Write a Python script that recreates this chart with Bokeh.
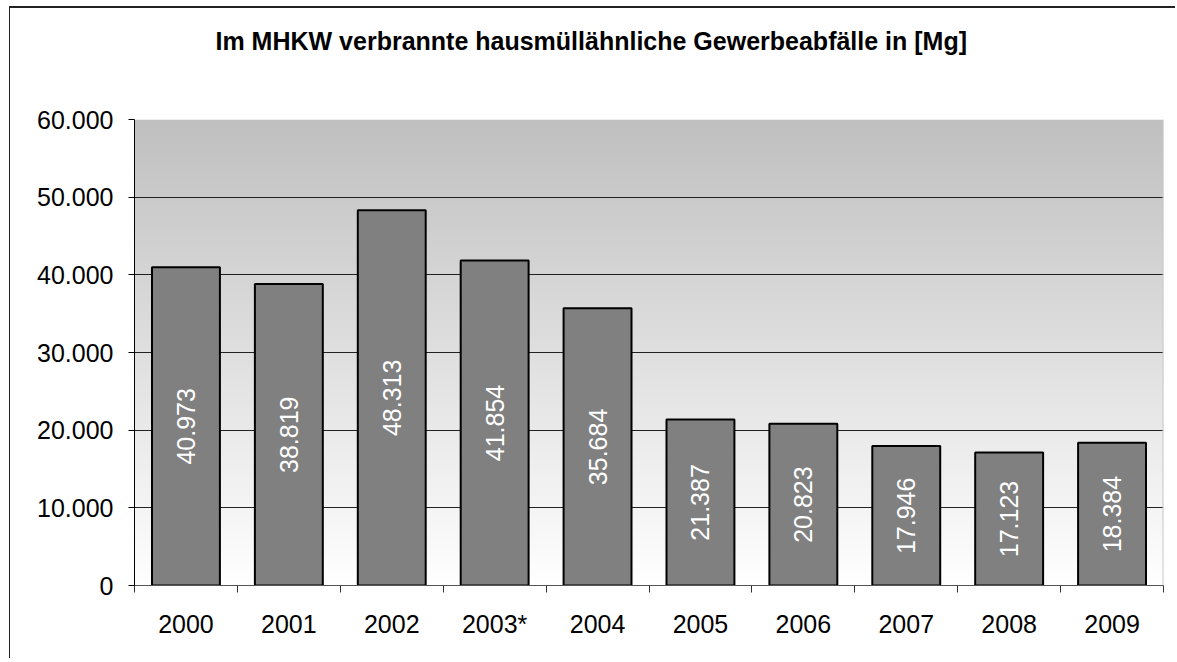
import numpy as np
from bokeh.plotting import figure
from bokeh.models import FixedTicker, Range1d, Span, ColumnDataSource, Title
from bokeh.core.properties import value
from bokeh.embed import file_html
from bokeh.resources import INLINE

categories = ["2000", "2001", "2002", "2003*", "2004", "2005", "2006", "2007", "2008", "2009"]
values = [40973, 38819, 48313, 41854, 35684, 21387, 20823, 17946, 17123, 18384]
y_ticks = [0, 10000, 20000, 30000, 40000, 50000, 60000]
y_tick_labels = ["0", "10.000", "20.000", "30.000", "40.000", "50.000", "60.000"]
title_text = "Im MHKW verbrannte hausmüllähnliche Gewerbeabfälle in [Mg]"

FONT = "Liberation Sans"
n = len(categories)
xs = list(range(n))

p = figure(width=1166, height=652, output_backend="svg", toolbar_location=None,
           x_range=Range1d(-0.5, n - 0.5), y_range=Range1d(0, 60000),
           min_border_left=124, min_border_right=13, min_border_top=111, min_border_bottom=75)
p.margin = (6, 0, 0, 9)
p.outline_line_color = None
p.background_fill_color = "white"
p.styles = {"border-top": "2px solid #222", "border-left": "1px solid #222"}

# spacer panel between frame and title
p.add_layout(Title(text=" ", text_font_size="10px", standoff=52), "above")
p.title = Title(text=title_text, align="left", text_font=FONT, text_font_size="25px",
                text_font_style="bold", text_color="black", standoff=0, offset=81)

# vertical gradient background (grey top -> white bottom)
rows = 240
g = np.linspace(255, 192, rows).astype(np.uint32)
img = np.empty((rows, 1), dtype=np.uint32)
img[:, 0] = (255 << 24) | (g << 16) | (g << 8) | g
bg = p.image_rgba(image=[img], x=-0.5, y=0, dw=n, dh=60000)
bg.level = "image"

src = ColumnDataSource(dict(x=xs, top=values, mid=[v / 2 for v in values],
                            lab=[f"{v:,}".replace(",", ".") for v in values]))
p.vbar(x="x", top="top", bottom=0, width=0.66, source=src, fill_color="#808080",
       line_color="black", line_width=2)
p.text(x="x", y="mid", text="lab", source=src, angle=np.pi / 2, text_align="center",
       text_baseline="middle", text_color="white", text_font=value(FONT),
       text_font_size="25px")

p.add_layout(Span(location=n - 0.5, dimension="height", line_color="#c8c8c8", line_width=2))

# grid
p.xgrid.visible = False
p.ygrid.ticker = FixedTicker(ticks=y_ticks[1:-1])
p.ygrid.grid_line_color = "#222222"
p.ygrid.grid_line_width = 1

# y axis
yax = p.yaxis[0]
yax.ticker = FixedTicker(ticks=y_ticks, minor_ticks=[])
yax.major_label_overrides = {t: l for t, l in zip(y_ticks, y_tick_labels)}
yax.major_label_text_font = FONT
yax.major_label_text_font_size = "25px"
yax.major_label_text_color = "black"
yax.axis_line_color = "black"
yax.major_tick_line_color = "black"
yax.major_tick_out = 6
yax.major_tick_in = 0
yax.minor_tick_line_color = None
yax.major_label_standoff = 15

# x axis
xax = p.xaxis[0]
xax.ticker = FixedTicker(ticks=xs, minor_ticks=[i - 0.5 for i in range(n + 1)])
xax.major_label_overrides = {i: c for i, c in zip(xs, categories)}
xax.major_label_text_font = FONT
xax.major_label_text_font_size = "25px"
xax.major_label_text_color = "black"
xax.axis_line_color = "#555555"
xax.major_tick_line_color = None
xax.major_tick_out = 0
xax.major_tick_in = 0
xax.minor_tick_line_color = "#333333"
xax.minor_tick_out = 7
xax.minor_tick_in = 0
xax.major_label_standoff = 17

open("out.html", "w").write(file_html(p, INLINE))
